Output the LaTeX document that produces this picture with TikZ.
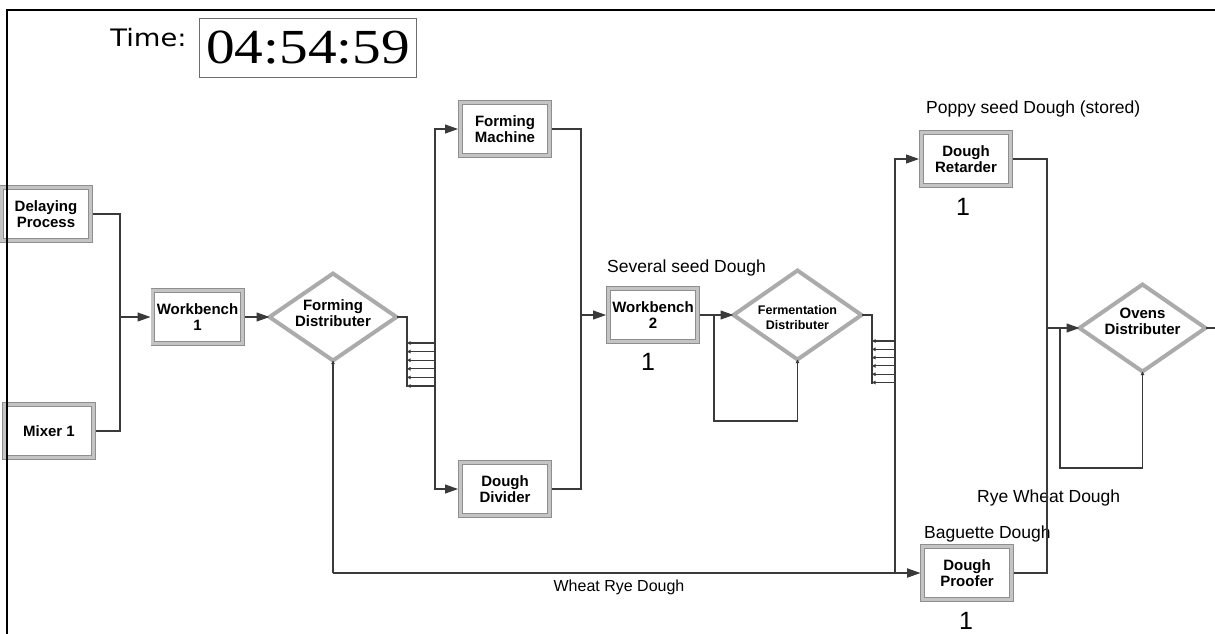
\documentclass[tikz,border=0pt]{standalone}
\usepackage{fontspec}
\setmainfont{Liberation Sans}
\newfontfamily\clockfont{Liberation Serif}
\newfontfamily\timefont{DejaVu Sans}
\usetikzlibrary{shapes.geometric,arrows.meta}
\definecolor{boxedge}{HTML}{8E8E8E}
\definecolor{boxband}{HTML}{C4C4C4}
\definecolor{diamc}{HTML}{ABABAB}
\definecolor{linec}{HTML}{3A3A3A}
\definecolor{clockedge}{HTML}{6E6E6E}
\begin{document}
\begin{tikzpicture}[x=1pt,y=-1pt,
  proc/.style={rectangle, draw=boxedge, double=boxband, double distance=3pt,
    line width=0.8pt, fill=white, minimum width=89.4pt, minimum height=53.4pt,
    inner sep=0pt, outer sep=2.3pt, align=center,
    font=\bfseries\fontsize{15}{16}\selectfont, text=black},
  dist/.style={diamond, draw=diamc, line width=4pt, fill=white, inner sep=0pt,
    aspect=1.44, outer sep=0pt},
  dtext/.style={align=center, font=\bfseries\fontsize{15}{16}\selectfont, text=black},
  flow/.style={draw=linec, line width=1.1pt},
  arr/.style={flow, -{Triangle[length=13pt,width=9pt]}},
  tiny/.style={flow, -{Triangle[length=3.5pt,width=3.5pt]}},
  note/.style={font=\fontsize{17.5}{18}\selectfont, text=black, inner sep=0pt},
  count/.style={font=\fontsize{25}{26}\selectfont, text=black, inner sep=0pt}
]
\useasboundingbox (0,0) rectangle (1215,633);
\clip (0,0) rectangle (1215,633);

% time display
\node[anchor=base, inner sep=0pt] (timelbl) at (148.5,46.7)
  {\timefont\fontsize{24}{24}\selectfont\scalebox{1.14}[1]{Time:}};
\node[draw=clockedge, line width=1.2pt, minimum width=217pt, minimum height=59pt,
  inner sep=0pt] (clock) at (308,48)
  {\clockfont\fontsize{49}{49}\selectfont\scalebox{1.17}[1]{04:54:59}};

% process boxes
\node[proc] (delay) at (46,214) {Delaying\\Process};
\node[proc] (mixer) at (49,431) {Mixer 1};
\node[proc] (wb1) at (197.5,317) {Workbench\\1};
\node[proc] (fm) at (505,129) {Forming\\Machine};
\node[proc] (dd) at (505,489) {Dough\\Divider};
\node[proc] (wb2) at (653,315) {Workbench\\2};
\node[proc] (ret) at (966,159) {Dough\\Retarder};
\node[proc] (proof) at (967,573) {Dough\\Proofer};

% decide diamonds
\node[dist, minimum width=127pt, minimum height=87pt,
  label={[dtext, yshift=4pt]center:Forming\\Distributer}] (fdist) at (333,317) {};
\node[dist, minimum width=128pt, minimum height=89pt,
  label={[dtext, font=\bfseries\fontsize{12.5}{15}\selectfont, yshift=-3pt]center:Fermentation\\Distributer}] (fermd) at (797.5,315) {};
\node[dist, minimum width=126pt, minimum height=87pt,
  label={[dtext, yshift=7pt]center:Ovens\\Distributer}] (ovens) at (1142.5,328) {};

% annotations
\node[note, anchor=base west] (n1) at (607,272) {Several seed Dough};
\node[note, anchor=base west] (n2) at (926,113) {Poppy seed Dough (stored)};
\node[note, anchor=base west] (n3) at (977,502) {Rye Wheat Dough};
\node[note, anchor=base west] (n4) at (924,538) {Baguette Dough};
\node[note, anchor=base, font=\fontsize{16}{17}\selectfont] (n5) at (619,591) {Wheat Rye Dough};
\node[count, anchor=base] (c1) at (648,370) {1};
\node[count, anchor=base] (c2) at (963,215) {1};
\node[count, anchor=base] (c3) at (966,629) {1};

% coordinates
\coordinate (j1) at (120,317);
\coordinate (fs1) at (407,317);
\coordinate (fs2) at (407,387);
\coordinate (fbar) at (435,343);
\coordinate (j2) at (581,315);
\coordinate (fl1) at (714,315);
\coordinate (fl2) at (0,421);
\coordinate (gs1) at (872,315);
\coordinate (gs2) at (872,384);
\coordinate (gbar) at (895,341);
\coordinate (bot) at (0,573);
\coordinate (oj) at (1047,328);
\coordinate (ol1) at (1060,328);
\coordinate (ol2) at (0,468);
\coordinate (oe) at (1220,328);

% inputs to workbench 1
\draw[flow] (delay.east) -| (j1);
\draw[flow] (mixer.east) -| (j1);
\draw[arr] (j1) -- (wb1.west);
\draw[arr] (wb1.east) -- (fdist.west);

% forming distributer comb
\draw[flow] (fdist.east) -- (fs1) -- (fs2);
\foreach \k in {0,...,5}{
  \coordinate (fa\k) at (435,343+8.6*\k);
  \coordinate (fb\k) at (407,343+8.6*\k);
  \draw[tiny] (fa\k) -- (fb\k);
}
\draw[arr] (fbar) |- (fm.west);
\draw[arr] (fbar) |- (dd.west);

% to workbench 2
\draw[flow] (fm.east) -| (j2);
\draw[flow] (dd.east) -| (j2);
\draw[arr] (j2) -- (wb2.west);
\draw[arr] (wb2.east) -- (fermd.west);

% fermentation loop
\draw[tiny] (fl1) |- (fermd.south |- fl2) -- (fermd.south);

% fermentation comb
\draw[flow] (fermd.east) -- (gs1) -- (gs2);
\foreach \k in {0,...,5}{
  \coordinate (ga\k) at (895,341+8.3*\k);
  \coordinate (gb\k) at (872,341+8.3*\k);
  \draw[tiny] (ga\k) -- (gb\k);
}
\draw[arr] (gbar) |- (ret.west);
\draw[arr] (gbar) |- (proof.west);

% wheat rye dough path
\draw[tiny] (fdist.south |- bot) -- (fdist.south);
\draw[arr] (fdist.south |- bot) -- (proof.west);

% to ovens
\draw[flow] (ret.east) -| (oj);
\draw[flow] (proof.east) -| (oj);
\draw[arr] (oj) -- (ovens.west);
\draw[tiny] (ol1) |- (ovens.south |- ol2) -- (ovens.south);
\draw[flow] (ovens.east) -- (oe);

% frame
\draw[line width=2.5pt, black] (7,645) -- (7,10) -- (1225,10);
\end{tikzpicture}
\end{document}
